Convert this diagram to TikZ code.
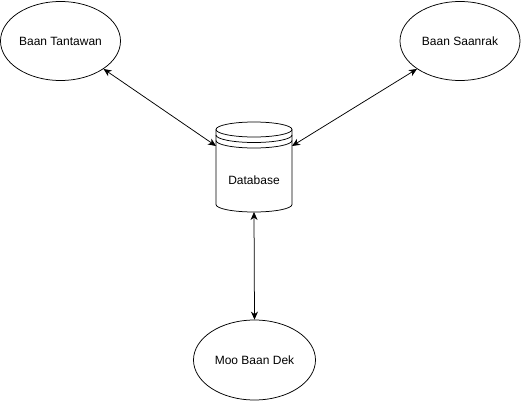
\documentclass[tikz,border=0pt]{standalone}
\usepackage{fontspec}
\setmainfont{Liberation Sans}
\usetikzlibrary{shapes.geometric,arrows.meta}

\tikzset{
	site/.style={draw, ellipse, line width=0.75pt, minimum width=120pt, minimum height=79pt, inner sep=0pt},
	link/.style={line width=0.75pt, {Stealth[length=8pt,width=7pt,inset=2.5pt]}-{Stealth[length=8pt,width=7pt,inset=2.5pt]}}
}

\begin{document}
\begin{tikzpicture}[x=1pt, y=-1pt, font=\fontsize{12}{14}\selectfont]
	\useasboundingbox (0,0) rectangle (521,401);
	
	% Fixed coordinates
	\node[site] (tantawan) at (60.5,41) {Baan Tantawan};
	\node[site] (saanrak) at (460,41) {Baan Saanrak};
	\node[site, minimum width=122pt, minimum height=80pt] (moo) at (254.5,360) {Moo Baan Dek};
	
	% Database cylinder
	\node (db) at (254,167) [minimum width=76pt, minimum height=90pt, inner sep=0pt, outer sep=0pt] {};
	\node (dblabel) at (254,180) {Database};
	\draw[line width=0.75pt] (216,129.5) -- (216,204.5) arc[start angle=180, end angle=0, x radius=38, y radius=7.5] -- (292,129.5);
	\draw[line width=0.75pt] (254,129.5) ellipse [x radius=38, y radius=7.5];
	\draw[line width=0.75pt] (216,135) arc[start angle=180, end angle=0, x radius=38, y radius=7.5];
	\draw[line width=0.75pt] (216,140.5) arc[start angle=180, end angle=0, x radius=38, y radius=7.5];
	
	% Links
	\draw[link] (tantawan.-33) -- ([yshift=-24pt]db.north west);
	\draw[link] (saanrak.-147) -- ([yshift=-24pt]db.north east);
	\draw[link] (db.south) -- (moo.north);
\end{tikzpicture}
\end{document}
